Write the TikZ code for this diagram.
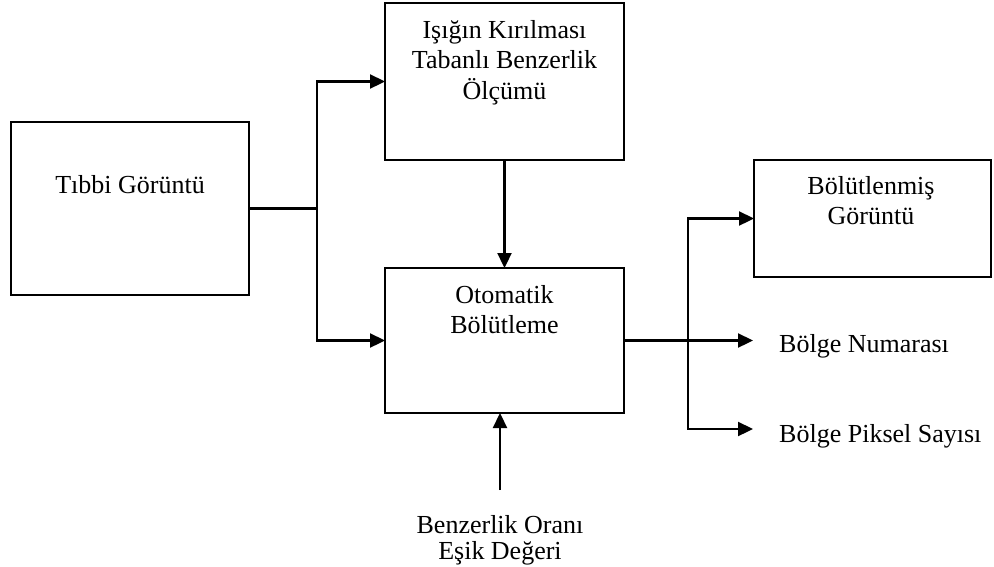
\documentclass[tikz,border=0pt]{standalone}
\usepackage{fontspec}
\setmainfont{Liberation Serif}
\usetikzlibrary{arrows.meta}
\begin{document}
\begin{tikzpicture}[x=1pt,y=-1pt,
  box/.style={draw, line width=2pt, inner sep=0pt, outer sep=0pt, anchor=north west},
  txt/.style={inner sep=0pt, align=center, font=\fontsize{26}{30.5}\selectfont},
  conn/.style={line width=2.3pt},
  arr/.style={conn, -{Triangle[length=15pt,width=14pt]}}]
\useasboundingbox (0,0) rectangle (994,566);
% boxes
\node[box, minimum width=238pt, minimum height=173pt] (A) at (11,122) {};
\node[box, minimum width=239pt, minimum height=157pt] (B) at (385,3) {};
\node[box, minimum width=239pt, minimum height=145pt] (C) at (385,268) {};
\node[box, minimum width=237pt, minimum height=117pt] (D) at (754,160) {};
% texts
\node[txt, anchor=base] (tA) at (130,193) {Tıbbi Görüntü};
\node[txt, anchor=north] (tB) at (504.5,20.2) {Işığın Kırılması\\Tabanlı Benzerlik\\Ölçümü};
\node[txt, anchor=north] (tC) at (504.5,285.2) {Otomatik\\Bölütleme};
\node[txt, anchor=north] (tD) at (871,176.2) {Bölütlenmiş\\Görüntü};
\node[txt, anchor=base west] (tN) at (779,352) {Bölge Numarası};
\node[txt, anchor=base west] (tP) at (779,442) {Bölge Piksel Sayısı};
\node[txt, anchor=north, font=\fontsize{26}{26.5}\selectfont] (tE) at (500,515.2) {Benzerlik Oranı\\Eşik Değeri};
% connectors
\coordinate (j1) at (317,208.5);
\draw[conn] (A.east) -- (j1);
\draw[arr] (j1) |- (B.west);
\draw[arr] (j1) |- (C.west);
\draw[arr] (B.south) -- (C.north);
\coordinate (j2) at (688,340.5);
\draw[conn] (C.east) -- (j2);
\draw[arr] (j2) |- (D.west);
\coordinate (o1) at (753,340.5);
\coordinate (o2) at (753,429);
\draw[arr] (j2) -- (o1);
\draw[arr] (j2) |- (o2);
\coordinate (b0) at (500,490);
\draw[arr] (b0) -- (b0 |- C.south);
\end{tikzpicture}
\end{document}
